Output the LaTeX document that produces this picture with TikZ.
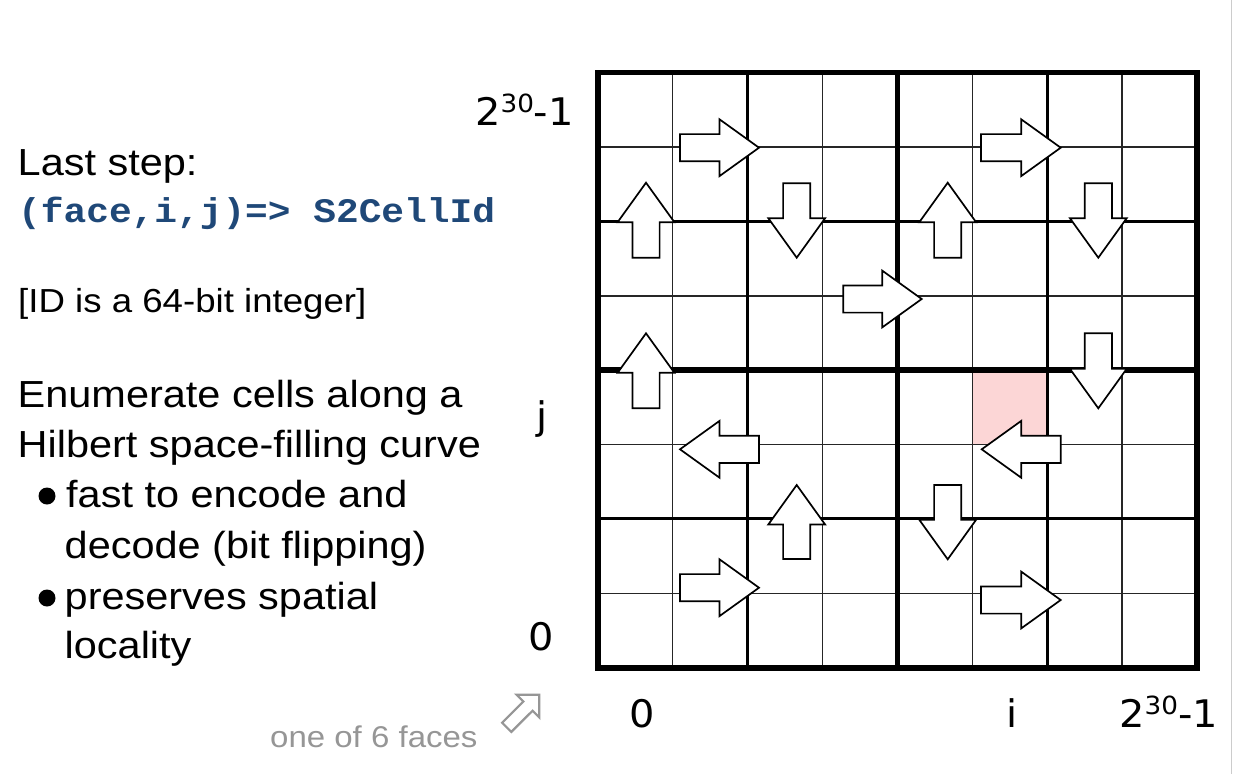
\documentclass[tikz,border=0pt]{standalone}
\usepackage{fontspec}
\setmainfont{Liberation Sans}[FakeStretch=1.1]
\newfontfamily\monof{Liberation Mono}[FakeStretch=1.1]
\newfontfamily\axf{DejaVu Sans}[FakeStretch=1.05]
\usetikzlibrary{calc}
\definecolor{codeblue}{RGB}{31,72,120}
\definecolor{cellpink}{RGB}{252,214,214}
\definecolor{captgray}{RGB}{150,150,150}
\newcommand{\blockarrow}[2]{%
  \path (#1) coordinate (ba-a) (#2) coordinate (ba-b);
  \path ($(ba-b)!39.5pt!(ba-a)$) coordinate (ba-h);
  \draw[arrowshape] ($(ba-a)!13.6pt!90:(ba-b)$) -- ($(ba-h)!13.6pt!-90:(ba-a)$)
    -- ($(ba-h)!28.4pt!-90:(ba-a)$) -- (ba-b) -- ($(ba-h)!28.4pt!90:(ba-a)$)
    -- ($(ba-h)!13.6pt!90:(ba-a)$) -- ($(ba-a)!13.6pt!-90:(ba-b)$) -- cycle;}
\newcommand{\twothirty}{2\raisebox{13pt}{\fontsize{25}{25}\selectfont 30}-1}
\begin{document}
\begin{tikzpicture}[x=1pt,y=-1pt,
  txt/.style={inner sep=0pt, anchor=base west, font=\fontsize{37.7}{45}\selectfont},
  smalltxt/.style={inner sep=0pt, anchor=base west, font=\fontsize{33.3}{40}\selectfont},
  codetxt/.style={inner sep=0pt, anchor=base west, text=codeblue, font=\monof\bfseries\fontsize{34.4}{40}\selectfont},
  axlabel/.style={inner sep=0pt, anchor=base, font=\axf\fontsize{38}{44}\selectfont},
  captxt/.style={inner sep=0pt, anchor=base west, text=captgray, font=\fontsize{30}{36}\selectfont},
  thinline/.style={line width=1.6pt, black!85},
  medline/.style={line width=3pt, black},
  thickline/.style={line width=5.8pt, black},
  arrowshape/.style={draw=black, fill=white, line width=1.7pt, line join=miter},
  bulletdot/.style={fill=black, draw=none}]
\useasboundingbox (0,0) rectangle (1234,774);
\fill[white] (0,0) rectangle (1234,774);
\draw[black!20, line width=1pt] (1231,0) -- (1231,774);

% grid geometry
\def\gx#1{597.7+74.94*#1}
\def\gy#1{72.5+74.4*#1}
% highlighted cell
\fill[cellpink] ({\gx{5}},{\gy{4}}) rectangle ({\gx{6}},{\gy{5}});
% thin lines
\foreach \k in {1,3,5,7}{
  \draw[thinline] ({\gx{\k}},{\gy{0}}) -- ({\gx{\k}},{\gy{8}});
  \draw[thinline] ({\gx{0}},{\gy{\k}}) -- ({\gx{8}},{\gy{\k}});
}
% medium lines
\foreach \k in {2,6}{
  \draw[medline] ({\gx{\k}},{\gy{0}}) -- ({\gx{\k}},{\gy{8}});
  \draw[medline] ({\gx{0}},{\gy{\k}}) -- ({\gx{8}},{\gy{\k}});
}
% thick lines
\draw[thickline] ({\gx{4}},{\gy{0}}) -- ({\gx{4}},{\gy{8}});
\draw[thickline] ({\gx{0}},{\gy{4}}) -- ({\gx{8}},{\gy{4}});
\draw[thickline] ({\gx{0}},{\gy{0}}) rectangle ({\gx{8}},{\gy{8}});

% Hilbert arrows
\blockarrow{680,147.7}{759,147.7}
\blockarrow{981,147.7}{1060.7,147.7}
\blockarrow{646,257.7}{646,182.7}
\blockarrow{796.7,183.3}{796.7,257.7}
\blockarrow{947.7,257.7}{947.7,182.7}
\blockarrow{1098.3,183.3}{1098.3,257.7}
\blockarrow{843.3,299}{921.7,299}
\blockarrow{646,408.3}{646,333.3}
\blockarrow{1098.3,333.3}{1098.3,408.3}
\blockarrow{759,449.3}{680,449.3}
\blockarrow{1060.7,449.3}{981.7,449.3}
\blockarrow{796.7,559}{796.7,485}
\blockarrow{947.7,485}{947.7,559.3}
\blockarrow{680,587.7}{759,587.7}
\blockarrow{981,600}{1060.7,600}

% axis labels
\node[axlabel, anchor=base west] (ytop) at (475,125) {\twothirty};
\node[axlabel] (yj) at (542,429) {j};
\node[axlabel] (yzero) at (541,650) {0};
\node[axlabel] (xzero) at (642,727) {0};
\node[axlabel] (xi) at (1012,727) {i};
\node[axlabel, anchor=base west] (xtop) at (1119,727) {\twothirty};

% left text
\node[txt] (t1) at (17.5,175) {Last step:};
\node[codetxt] (t2) at (18,222) {(face,i,j)=> S2CellId};
\node[smalltxt] (t3) at (18,312) {[ID is a 64-bit integer]};
\node[txt] (t4) at (17.5,407) {Enumerate cells along a};
\node[txt] (t5) at (17.5,457) {Hilbert space-filling curve};
\fill[bulletdot] (47,496) circle (8.5);
\node[txt] (t6) at (66,507) {fast to encode and};
\node[txt] (t7) at (64.5,558) {decode (bit flipping)};
\fill[bulletdot] (47,598) circle (8.5);
\node[txt] (t8) at (64.5,609) {preserves spatial};
\node[txt] (t9) at (64.5,658) {locality};

% caption and icon
\node[captxt] (cap) at (270,747) {one of 6 faces};
\draw[captgray, line width=2.2pt, line join=miter]
  (539.3,694.7) -- (539.3,717.4) -- (532.6,710.7) -- (511.3,731.9)
  -- (502.1,722.7) -- (523.4,701.5) -- (516.6,694.7) -- cycle;
\end{tikzpicture}
\end{document}
